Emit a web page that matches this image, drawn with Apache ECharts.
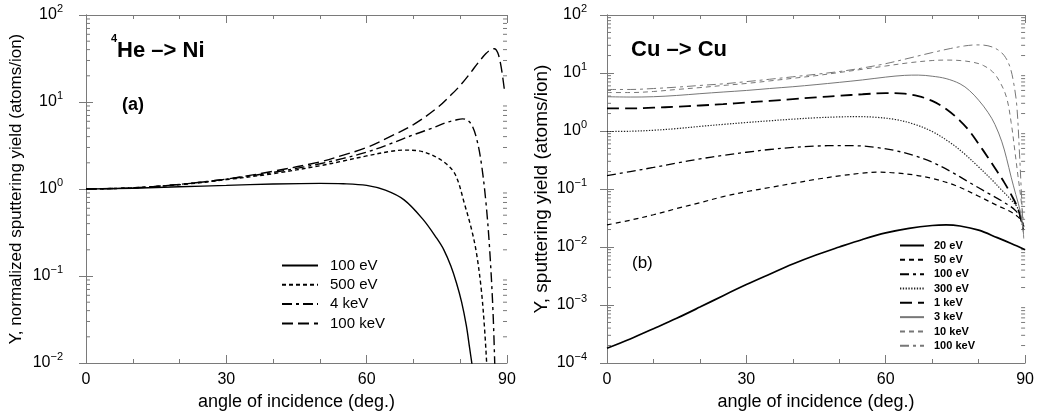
<!DOCTYPE html>
<html>
<head>
<meta charset="utf-8">
<script src="https://cdn.jsdelivr.net/npm/echarts@6/dist/echarts.min.js"></script>
<style>
  html, body { margin: 0; padding: 0; background: #fff; }
  #chart { width: 1037px; height: 419px; }
</style>
</head>
<body>
<div id="chart"></div>
<script>
// ---- Panel (a): 4He -> Ni, normalized sputtering yield ----
const heAngle100eV = [0, 10, 20, 30, 40, 50, 55, 60, 64, 68, 72, 75, 76.5, 78, 79.2, 80.3, 81.3, 82.0, 82.6];
const heYield100eV = [1.0, 1.02, 1.06, 1.10, 1.14, 1.16, 1.15, 1.10, 0.97, 0.75, 0.45, 0.27, 0.2, 0.13, 0.083, 0.05, 0.027, 0.015, 0.009];

const heAngle500eV = [0, 10, 20, 30, 40, 50, 55, 60, 65, 68, 71, 74, 77, 79, 81, 82.5, 83.5, 84.5, 85.2, 85.7];
const heYield500eV = [1.0, 1.03, 1.12, 1.28, 1.5, 1.85, 2.1, 2.4, 2.7, 2.8, 2.75, 2.45, 1.95, 1.45, 0.65, 0.33, 0.18, 0.07, 0.025, 0.009];

const heAngle4keV = [0, 10, 20, 30, 40, 50, 55, 60, 65, 70, 74, 77, 79, 80.5, 81.5, 82.5, 83.5, 84.5, 85.5, 86.3, 87, 87.4];
const heYield4keV = [1.0, 1.03, 1.13, 1.3, 1.55, 1.95, 2.25, 2.65, 3.3, 4.2, 5.0, 5.8, 6.2, 6.4, 6.2, 5.4, 3.8, 2.0, 0.7, 0.2, 0.04, 0.009];

const heAngle100keV = [0, 10, 20, 30, 40, 50, 55, 60, 65, 70, 75, 78, 80, 82, 84, 85.5, 86.5, 87.3, 88, 88.6, 89.1, 89.5];
const heYield100keV = [1.0, 1.03, 1.13, 1.3, 1.6, 2.05, 2.45, 3.0, 4.0, 5.5, 8.5, 12, 15.5, 21, 29, 36, 40, 41, 37, 28, 19, 13];

// ---- Panel (b): Cu -> Cu, sputtering yield ----
const cuAngle20eV = [0, 5, 10, 15, 20, 25, 30, 35, 40, 45, 50, 55, 60, 65, 70, 73, 76, 80, 84, 87, 90];
const cuYield20eV = [1.8e-4, 2.6e-4, 3.9e-4, 5.9e-4, 9.2e-4, 1.45e-3, 2.25e-3, 3.4e-3, 5.1e-3, 7.3e-3, 1.0e-2, 1.35e-2, 1.75e-2, 2.1e-2, 2.35e-2, 2.4e-2, 2.3e-2, 1.95e-2, 1.45e-2, 1.15e-2, 9e-3];

const cuAngle50eV = [0, 5, 10, 15, 20, 25, 30, 35, 40, 45, 50, 55, 58, 62, 66, 70, 75, 80, 84, 87, 89, 89.8];
const cuYield50eV = [0.024, 0.029, 0.036, 0.046, 0.058, 0.074, 0.09, 0.106, 0.125, 0.147, 0.168, 0.188, 0.195, 0.19, 0.175, 0.152, 0.115, 0.075, 0.052, 0.04, 0.03, 0.022];

const cuAngle100eV = [0, 5, 10, 15, 20, 25, 30, 35, 40, 45, 50, 54, 58, 62, 66, 70, 74, 78, 82, 85, 88, 89.6];
const cuYield100eV = [0.17, 0.2, 0.235, 0.28, 0.33, 0.38, 0.43, 0.48, 0.52, 0.55, 0.56, 0.555, 0.52, 0.46, 0.38, 0.29, 0.2, 0.13, 0.085, 0.062, 0.042, 0.025];

const cuAngle300eV = [0, 5, 10, 15, 20, 25, 30, 35, 40, 45, 50, 54, 58, 62, 66, 70, 74, 77, 80, 83, 85, 87, 88.5, 89.6];
const cuYield300eV = [0.98, 0.99, 1.03, 1.1, 1.2, 1.3, 1.4, 1.5, 1.6, 1.69, 1.75, 1.77, 1.72, 1.58, 1.32, 0.98, 0.62, 0.4, 0.24, 0.14, 0.095, 0.065, 0.045, 0.02];

const cuAngle1keV = [0, 5, 10, 15, 20, 25, 30, 35, 40, 45, 50, 55, 60, 64, 67, 70, 73, 76, 78, 80, 82, 84, 85.5, 87, 88.5, 89.6];
const cuYield1keV = [2.45, 2.45, 2.52, 2.62, 2.75, 2.9, 3.1, 3.3, 3.55, 3.8, 4.05, 4.3, 4.5, 4.4, 4.0, 3.3, 2.4, 1.5, 1.0, 0.6, 0.35, 0.2, 0.13, 0.08, 0.045, 0.02];

const cuAngle3keV = [0, 5, 10, 15, 20, 25, 30, 35, 40, 45, 50, 55, 60, 64, 67, 70, 73, 76, 78, 80, 82, 83.5, 85, 86, 87, 88, 89, 89.6];
const cuYield3keV = [3.9, 3.85, 3.9, 4.1, 4.4, 4.7, 5.0, 5.4, 5.8, 6.3, 6.9, 7.6, 8.5, 9.1, 9.2, 8.8, 8.0, 6.5, 5.0, 3.4, 2.1, 1.3, 0.65, 0.34, 0.16, 0.08, 0.04, 0.018];

const cuAngle10keV = [0, 5, 10, 15, 20, 25, 30, 35, 40, 45, 50, 55, 60, 65, 70, 73, 76, 79, 81, 83, 84.5, 86, 87, 87.8, 88.5, 89, 89.6];
const cuYield10keV = [4.6, 4.6, 4.8, 5.2, 5.6, 6.1, 6.6, 7.3, 8.1, 9.0, 10.2, 11.6, 13.2, 15.0, 16.4, 16.7, 16.4, 15.2, 13.5, 10.5, 7.2, 3.8, 1.4, 0.45, 0.16, 0.08, 0.03];

const cuAngle100keV = [0, 5, 10, 15, 20, 25, 30, 35, 40, 45, 50, 55, 60, 65, 70, 74, 77, 79.5, 82, 84, 85.5, 86.7, 87.5, 88.2, 88.8, 89.3, 89.7];
const cuYield100keV = [5.2, 5.2, 5.4, 5.7, 6.1, 6.5, 7.1, 7.8, 8.6, 9.5, 10.6, 12.2, 14.5, 18, 22.5, 26.5, 29.3, 30.5, 29.5, 25.5, 20, 13, 7, 2.8, 0.4, 0.06, 0.014];

// Axis ticks
const angleTicks = [0, 30, 60, 90];
const heDecades = [-2, -1, 0, 1, 2];
const cuDecades = [-4, -3, -2, -1, 0, 1, 2];

const pairs = (xs, ys) => xs.map((x, i) => [x, ys[i]]);

// intermediate log ticks 2..9 x 10^k
function minorValues(decades) {
  const out = [];
  for (let k = decades[0]; k < decades[decades.length - 1]; k++) {
    for (let m = 2; m <= 9; m++) out.push([0, m * Math.pow(10, k)]);
  }
  return out;
}

const AXIS_COLOR = '#7a7a7a';
const FONT = '"Liberation Sans", Arial, Helvetica, sans-serif';

function powerLabel(v) {
  const e = Math.round(Math.log10(v));
  return '{b|10}{s|' + (e < 0 ? '\u2212' + (-e) : e) + '}';
}
const powerRich = {
  b: { fontSize: 16, lineHeight: 24, color: '#000', fontFamily: FONT },
  s: { fontSize: 11, lineHeight: 12, verticalAlign: 'top', color: '#000', fontFamily: FONT }
};

function xAxes(gridIndex) {
  const base = {
    type: 'value', gridIndex, min: 0, max: 90, interval: 30,
    axisLine: { show: true, onZero: false, lineStyle: { color: AXIS_COLOR, width: 1 } },
    axisTick: { show: true, inside: true, length: 8, lineStyle: { color: AXIS_COLOR } },
    minorTick: { show: true, splitNumber: 3, length: 4, lineStyle: { color: AXIS_COLOR } },
    splitLine: { show: false }, minorSplitLine: { show: false }
  };
  return [
    Object.assign({}, base, {
      position: 'bottom',
      name: 'angle of incidence (deg.)', nameLocation: 'middle', nameGap: 29,
      nameTextStyle: { fontSize: 18, color: '#000', fontFamily: FONT },
      axisLabel: { show: true, margin: 9, fontSize: 16, color: '#000', fontFamily: FONT,
        formatter: v => angleTicks.includes(v) ? String(v) : '' }
    }),
    Object.assign({}, base, { position: 'top', axisLabel: { show: false } })
  ];
}

function yAxes(gridIndex, decades, name, nameGap, nameSize, labelMargin) {
  const base = {
    type: 'log', logBase: 10, gridIndex,
    min: Math.pow(10, decades[0]), max: Math.pow(10, decades[decades.length - 1]),
    axisLine: { show: true, lineStyle: { color: AXIS_COLOR, width: 1 } },
    axisTick: { show: true, inside: true, length: 7, lineStyle: { color: AXIS_COLOR } },
    splitLine: { show: false }
  };
  return [
    Object.assign({}, base, {
      position: 'left',
      name, nameLocation: 'middle', nameGap,
      nameTextStyle: { fontSize: nameSize, color: '#000', fontFamily: FONT },
      axisLabel: { show: true, margin: labelMargin, formatter: powerLabel, rich: powerRich }
    }),
    Object.assign({}, base, { position: 'right', axisLabel: { show: false } })
  ];
}

function lineSeries(name, xi, yi, xs, ys, color, width, type) {
  return {
    type: 'line', name, xAxisIndex: xi, yAxisIndex: yi,
    data: pairs(xs, ys), symbol: 'none', smooth: 0.35,
    lineStyle: { color, width, type }, itemStyle: { color },
    emphasis: { disabled: true }, animation: false, z: 3
  };
}

function minorTickSeries(xi, yi, decades) {
  return {
    type: 'custom', xAxisIndex: xi, yAxisIndex: yi, silent: true, animation: false,
    data: minorValues(decades), encode: { x: 0, y: 1 }, clip: false,
    renderItem: (params, api) => {
      const v = api.value(1);
      const a = api.coord([0, v]);
      const b = api.coord([90, v]);
      const st = { stroke: AXIS_COLOR, lineWidth: 1 };
      return { type: 'group', children: [
        { type: 'line', shape: { x1: a[0], y1: a[1], x2: a[0] + 4, y2: a[1] }, style: st },
        { type: 'line', shape: { x1: b[0] - 4, y1: b[1], x2: b[0], y2: b[1] }, style: st }
      ] };
    }
  };
}

const BLACK = '#000';
const GRAY = '#777';

const series = [
  lineSeries('He 100 eV', 0, 0, heAngle100eV, heYield100eV, BLACK, 1.4, 'solid'),
  lineSeries('He 500 eV', 0, 0, heAngle500eV, heYield500eV, BLACK, 1.4, [4, 3]),
  lineSeries('He 4 keV', 0, 0, heAngle4keV, heYield4keV, BLACK, 1.4, [10, 4, 3, 4]),
  lineSeries('He 100 keV', 0, 0, heAngle100keV, heYield100keV, BLACK, 1.4, [11, 5]),

  lineSeries('Cu 20 eV', 2, 2, cuAngle20eV, cuYield20eV, BLACK, 1.7, 'solid'),
  lineSeries('Cu 50 eV', 2, 2, cuAngle50eV, cuYield50eV, BLACK, 1.2, [5, 4]),
  lineSeries('Cu 100 eV', 2, 2, cuAngle100eV, cuYield100eV, BLACK, 1.3, [9, 4, 3, 4]),
  lineSeries('Cu 300 eV', 2, 2, cuAngle300eV, cuYield300eV, '#222', 1.2, [1.3, 1.5]),
  lineSeries('Cu 1 keV', 2, 2, cuAngle1keV, cuYield1keV, BLACK, 1.8, [12, 6]),
  lineSeries('Cu 3 keV', 2, 2, cuAngle3keV, cuYield3keV, GRAY, 1, 'solid'),
  lineSeries('Cu 10 keV', 2, 2, cuAngle10keV, cuYield10keV, GRAY, 1, [5, 4]),
  lineSeries('Cu 100 keV', 2, 2, cuAngle100keV, cuYield100keV, GRAY, 1, [9, 4, 3, 4]),

  minorTickSeries(0, 0, heDecades),
  minorTickSeries(2, 2, cuDecades)
];

const legendText = { color: '#000', fontFamily: FONT };

const option = {
  backgroundColor: '#fff',
  animation: false,
  grid: [
    { left: 86, top: 15, width: 421, height: 348 },
    { left: 607, top: 15, width: 419, height: 348 }
  ],
  xAxis: [...xAxes(0), ...xAxes(1)],
  yAxis: [
    ...yAxes(0, heDecades, 'Y, normalized sputtering yield (atoms/ion)', 61, 17, 23),
    ...yAxes(1, cuDecades, 'Y, sputtering yield (atoms/ion)', 56, 19, 20)
  ],
  legend: [
    {
      data: ['He 100 eV', 'He 500 eV', 'He 4 keV', 'He 100 keV'],
      orient: 'vertical', left: 281, top: 258, padding: 0,
      itemWidth: 36, itemHeight: 14, itemGap: 4.3, selectedMode: false,
      itemStyle: { opacity: 0 },
      formatter: n => n.slice(3),
      textStyle: Object.assign({ fontSize: 15, lineHeight: 14, padding: [0, 0, 0, 7] }, legendText)
    },
    {
      data: ['Cu 20 eV', 'Cu 50 eV', 'Cu 100 eV', 'Cu 300 eV', 'Cu 1 keV', 'Cu 3 keV', 'Cu 10 keV', 'Cu 100 keV'],
      orient: 'vertical', left: 899, top: 240, padding: 0,
      itemWidth: 24, itemHeight: 10, itemGap: 3.33, selectedMode: false,
      itemStyle: { opacity: 0 },
      formatter: n => n.slice(3),
      textStyle: Object.assign({ fontSize: 11, lineHeight: 10, fontWeight: 'bold', padding: [0, 0, 0, 5] }, legendText)
    }
  ],
  title: [
    {
      text: '{sup|4}{main|He \u2013> Ni}', left: 111, top: 33, padding: 0,
      textStyle: { rich: {
        sup: { fontSize: 11, fontWeight: 'bold', lineHeight: 12, verticalAlign: 'top', color: '#000', fontFamily: FONT },
        main: { fontSize: 22, fontWeight: 'bold', lineHeight: 36, color: '#000', fontFamily: FONT }
      } }
    },
    {
      text: '(a)', left: 122, top: 94, padding: 0,
      textStyle: { fontSize: 18, fontWeight: 'bold', lineHeight: 22, color: '#000', fontFamily: FONT }
    },
    {
      text: 'Cu \u2013> Cu', left: 631, top: 37, padding: 0,
      textStyle: { fontSize: 22, fontWeight: 'bold', lineHeight: 26, color: '#000', fontFamily: FONT }
    },
    {
      text: '(b)', left: 632, top: 252, padding: 0,
      textStyle: { fontSize: 17, fontWeight: 'normal', lineHeight: 22, color: '#000', fontFamily: FONT }
    }
  ],
  series
};

const chart = echarts.init(document.getElementById('chart'), null, { renderer: 'canvas' });
chart.setOption(option);
</script>
</body>
</html>
